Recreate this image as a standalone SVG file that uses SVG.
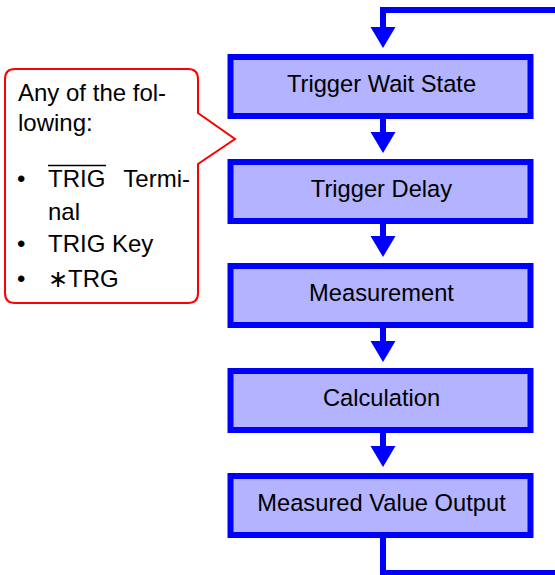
<svg xmlns="http://www.w3.org/2000/svg" width="555" height="575" viewBox="0 0 555 575">
<style>
.box{fill:#B3B3FF;stroke:#0000FF;stroke-width:6}
.lbl{font-family:"Liberation Sans",Arial,sans-serif;font-size:23.7px;fill:#000;text-anchor:middle}
.btxt{font-family:"Liberation Sans",Arial,sans-serif;font-size:24px;fill:#000}
.conn{fill:none;stroke:#0000FF;stroke-width:6;stroke-linejoin:miter}
</style>
<defs>
<marker id="ah" markerUnits="userSpaceOnUse" markerWidth="30" markerHeight="30" refX="0" refY="0" orient="auto" overflow="visible">
<path d="M0,-12.5 L21,0 L0,12.5 Z" fill="#0000FF"/>
</marker>
</defs>
<g id="callout">
<path d="M15,69 H188 Q198,69 198,79 V113 L235,139 L198,164 V293 Q198,303 188,303 H15 Q5,303 5,293 V79 Q5,69 15,69 Z" fill="#FFFFFF" stroke="#FF0000" stroke-width="2"/>
<text class="btxt" x="18" y="100.5">Any of the fol-</text>
<text class="btxt" x="18" y="130.5">lowing:</text>
<text class="btxt" x="17" y="187">•</text>
<text class="btxt" x="48" y="187">TRIG</text>
<line x1="48" y1="165.5" x2="106" y2="165.5" stroke="#000" stroke-width="1.5"/>
<text class="btxt" x="190" y="187" text-anchor="end">Termi-</text>
<text class="btxt" x="48" y="220">nal</text>
<text class="btxt" x="17" y="252">•</text>
<text class="btxt" x="48" y="252">TRIG Key</text>
<text class="btxt" x="17" y="287">•</text>
<text class="btxt" x="48" y="287"><tspan font-family="'Noto Sans CJK JP',sans-serif">∗</tspan>TRG</text>
</g>
<g id="connectors">
<polyline class="conn" points="555,10 383,10 383,27" marker-end="url(#ah)"/>
<line class="conn" x1="383" y1="119" x2="383" y2="132" marker-end="url(#ah)"/>
<line class="conn" x1="383" y1="224" x2="383" y2="236" marker-end="url(#ah)"/>
<line class="conn" x1="383" y1="328" x2="383" y2="341" marker-end="url(#ah)"/>
<line class="conn" x1="383" y1="433" x2="383" y2="446" marker-end="url(#ah)"/>
<polyline class="conn" points="383,538 383,573 555,573"/>
</g>
<g id="n1">
<rect class="box" x="230.5" y="57" width="300" height="59"/>
<text class="lbl" x="381.5" y="92">Trigger Wait State</text>
</g>
<g id="n2">
<rect class="box" x="230.5" y="162" width="300" height="59"/>
<text class="lbl" x="381.5" y="197">Trigger Delay</text>
</g>
<g id="n3">
<rect class="box" x="230.5" y="266" width="300" height="59"/>
<text class="lbl" x="381.5" y="301">Measurement</text>
</g>
<g id="n4">
<rect class="box" x="230.5" y="371" width="300" height="59"/>
<text class="lbl" x="381.5" y="406">Calculation</text>
</g>
<g id="n5">
<rect class="box" x="230.5" y="476" width="300" height="59"/>
<text class="lbl" x="381.5" y="511">Measured Value Output</text>
</g>
</svg>
